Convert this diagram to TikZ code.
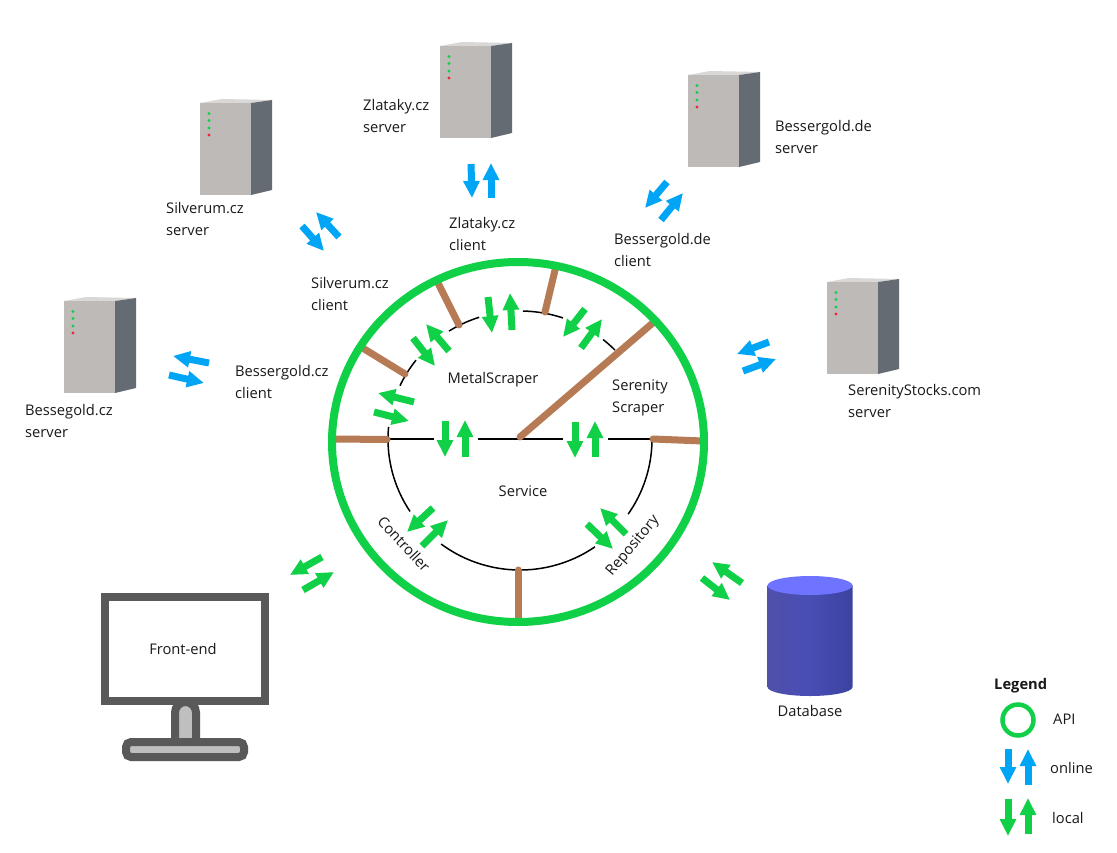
\documentclass[tikz,border=0pt]{standalone}
\usepackage{fontspec}
\setmainfont{Open Sans}
\usetikzlibrary{arrows.meta}
\definecolor{grn}{HTML}{10D048}
\definecolor{blu}{HTML}{00A6F5}
\definecolor{brn}{HTML}{B67B54}
\definecolor{monc}{HTML}{595959}
\definecolor{standc}{HTML}{BFBFBF}
\definecolor{srvtop}{HTML}{D9D8D6}
\definecolor{srvside}{HTML}{646B72}
\definecolor{srvfront}{HTML}{BDBAB8}
\definecolor{ledred}{HTML}{EE283C}
\definecolor{dbleft}{HTML}{5050AA}
\definecolor{dbmid}{HTML}{484EB4}
\definecolor{dbright}{HTML}{3C429F}
\definecolor{dbtop}{HTML}{6E74FF}
\tikzset{
  x=1pt,y=-1pt,
  barrow/.style={line width=7pt,-{Triangle[length=17pt,width=15.5pt]}},
  garrow/.style={barrow,draw=grn},
  oarrow/.style={barrow,draw=blu},
  spoke/.style={line width=7pt,draw=brn,line cap=round},
  inner/.style={line width=1.5pt,draw=black},
  lbl/.style={font=\fontsize{14.7pt}{22pt}\selectfont,align=left,anchor=west,inner sep=0pt,text=black!90},
  clbl/.style={font=\fontsize{14.7pt}{22pt}\selectfont,inner sep=0pt,text=black!90},
}
\newcommand{\servbox}[3]{%
  \begin{scope}[shift={(#1,#2)}]
    \coordinate (#3) at (25,46);
    \fill[srvtop] (0,0)--(22,-4)--(72,-3)--(51,0)--cycle;
    \fill[srvside] (51,0)--(72,-3)--(72,87)--(51,92)--cycle;
    \fill[srvfront] (0,0) rectangle (51,92);
    \fill[grn] (9,10.5) circle (1.6) (9,17.5) circle (1.6) (9,25) circle (1.6);
    \fill[ledred] (9,32) circle (1.6);
  \end{scope}}
\newcommand{\iarcup}[2]{\draw[inner] plot[domain=#1:#2,samples=30,smooth] ({520+132*cos(\x)},{439-128*sin(\x)});}
\newcommand{\iarclo}[2]{\draw[inner] plot[domain=#1:#2,samples=30,smooth] ({520+132*cos(\x)},{439+131*sin(\x)});}
\begin{document}
\begin{tikzpicture}
\useasboundingbox[fill=white] (0,0) rectangle (1117,852);

% servers
\servbox{200}{103}{srvSilverum}
\servbox{440}{46}{srvZlataky}
\servbox{688}{75}{srvBessergoldDe}
\servbox{827}{282}{srvSerenity}
\servbox{64}{301}{srvBessegold}

% inner arcs
\draw[line width=2.5pt] (388,439)--(434,439) (478,439)--(563,439) (608,439)--(652,439);
\iarcup{174.6}{180}
\iarcup{142}{155.4}
\iarcup{108}{122.5}
\iarcup{71}{88.7}
\iarcup{44}{51}
\iarclo{146.4}{180}
\iarclo{55.4}{126.7}
\iarclo{0}{35}

% spokes
\draw[spoke] (520,437)--(655,321);
\draw[spoke] (387,439.5)--(335,439);
\draw[spoke] (653,439)--(703,441);
\draw[spoke] (518,570)--(518,621);
\draw[spoke] (545,312)--(556,266);
\draw[spoke] (459,325)--(437,281);
\draw[spoke] (405,374)--(361,347);

% API ring
\draw[line width=8pt,draw=grn] (518,442) ellipse [x radius=186pt,y radius=180pt];

% local arrows inside ring
\draw[garrow] (488,297)--(492,333);
\draw[garrow] (512,330)--(510,293);
\draw[garrow] (585,309)--(563,337);
\draw[garrow] (581,348)--(602,319);
\draw[garrow] (413,338)--(435,366);
\draw[garrow] (449,351)--(426,324);
\draw[garrow] (414,402)--(378,393);
\draw[garrow] (374,412)--(409,421);
\draw[garrow] (445,421)--(445,457);
\draw[garrow] (465,457)--(465,420);
\draw[garrow] (575,422)--(575,458);
\draw[garrow] (595,457)--(595,421);
\draw[garrow] (433,508)--(407,532);
\draw[garrow] (422,546)--(448,520);
\draw[garrow] (587,524)--(613,549);
\draw[garrow] (626,534)--(600,508);
% local arrows outside
\draw[garrow] (322,557)--(290,575);
\draw[garrow] (303,590)--(334,572);
\draw[garrow] (742,583)--(712,562);
\draw[garrow] (702,578)--(730,600);
% online arrows
\draw[oarrow] (302,226)--(324,251);
\draw[oarrow] (339,237)--(316,212);
\draw[oarrow] (471,164)--(472,198);
\draw[oarrow] (491,198)--(491,163);
\draw[oarrow] (667,182)--(645,208);
\draw[oarrow] (661,220)--(683,193);
\draw[oarrow] (209,363)--(173,356);
\draw[oarrow] (169,375)--(204,383);
\draw[oarrow] (769,342)--(737,354);
\draw[oarrow] (743,371)--(776,359);

% monitor
\draw[line width=8pt,draw=monc,fill=white] (105,597) rectangle (265,701);
\draw[line width=8pt,draw=monc,fill=standc] (175,742)--(175,712.5) arc[start angle=180,end angle=0,radius=10.5pt]--(196,742)--cycle;
\draw[line width=8pt,draw=monc,fill=standc,rounded corners=5pt] (126,742) rectangle (244,757);
\node[clbl] (frontend) at (183,648.5) {Front-end};

% database
\shade[left color=dbleft,right color=dbright,middle color=dbmid]
  (767.5,585) -- (767.5,687) arc[start angle=180,end angle=360,x radius=42.5pt,y radius=9pt] -- (852.5,585) -- cycle;
\fill[dbtop] (810,585.5) ellipse [x radius=42.5pt,y radius=9.5pt];
\node[clbl] (db) at (810,711) {Database};

% labels
\node[lbl] (l1) at (363,116) {Zlataky.cz\\server};
\node[lbl] (l2) at (775,136.5) {Bessergold.de\\server};
\node[lbl] (l3) at (166,219) {Silverum.cz\\server};
\node[lbl] (l4) at (449,234) {Zlataky.cz\\client};
\node[lbl] (l5) at (614,250) {Bessergold.de\\client};
\node[lbl] (l6) at (311,294) {Silverum.cz\\client};
\node[lbl] (l7) at (25,420.5) {Bessegold.cz\\server};
\node[lbl] (l8) at (235,382) {Bessergold.cz\\client};
\node[lbl] (l9) at (848,401) {SerenityStocks.com\\server};
\node[lbl] (l10) at (612,397.5) {Serenity\\Scraper};
\node[clbl] (metal) at (493,380) {MetalScraper};
\node[clbl] (service) at (523,491.5) {Service};
\node[clbl,rotate=-47] (controller) at (404,544) {Controller};
\node[clbl,rotate=50] (repository) at (633,546) {Repository};

% legend
\node[lbl,font=\fontsize{14.7pt}{22pt}\selectfont\bfseries] (legend) at (994,685.5) {Legend};
\draw[line width=4.5pt,draw=grn] (1018,720) circle (15.5);
\node[lbl] (api) at (1053,719.5) {API};
\draw[oarrow] (1008,749)--(1008,784);
\draw[oarrow] (1028,785)--(1028,749);
\node[lbl] (online) at (1050,767.5) {online};
\draw[garrow] (1008,799)--(1008,836);
\draw[garrow] (1028,834)--(1028,798);
\node[lbl] (local) at (1052,817.5) {local};
\end{tikzpicture}
\end{document}
